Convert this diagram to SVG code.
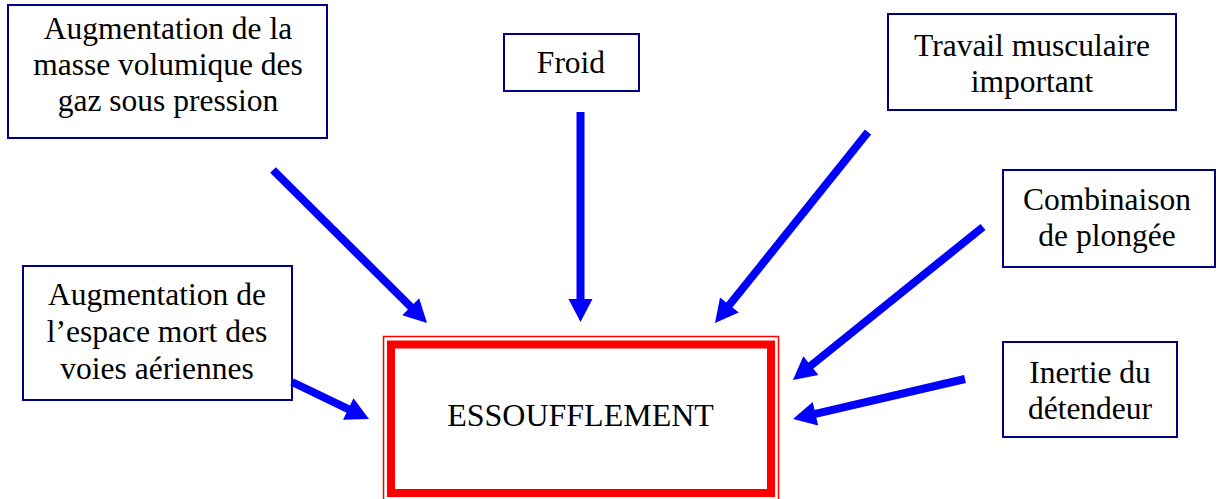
<svg xmlns="http://www.w3.org/2000/svg" width="1224" height="499" viewBox="0 0 1224 499">
<style>
.box{fill:#fff;stroke:#000080;stroke-width:2}
.t{font-family:"Liberation Serif","Times New Roman",serif;font-size:31.5px;fill:#000;text-anchor:middle}
.arr{stroke:#0000ff;stroke-width:8;fill:none;marker-end:url(#ah)}
</style>
<defs>
<marker id="ah" markerUnits="userSpaceOnUse" markerWidth="23" markerHeight="24" refX="11" refY="12" orient="auto" overflow="visible">
<path d="M0,0 L23,12 L0,24 z" fill="#0000ff"/>
</marker>
</defs>
<rect width="1224" height="499" fill="#fff"/>
<g id="n-masse">
<rect class="box" x="8" y="5" width="319" height="133"/>
<text class="t" x="168" y="39">Augmentation de la</text>
<text class="t" x="168" y="75">masse volumique des</text>
<text class="t" x="168" y="111">gaz sous pression</text>
</g>
<g id="n-froid">
<rect class="box" x="504" y="34" width="135" height="57"/>
<text class="t" x="571" y="73">Froid</text>
</g>
<g id="n-travail">
<rect class="box" x="888" y="14" width="288" height="96"/>
<text class="t" x="1032" y="56">Travail musculaire</text>
<text class="t" x="1032" y="92">important</text>
</g>
<g id="n-combi">
<rect class="box" x="1003" y="170" width="212" height="97"/>
<text class="t" x="1107" y="210">Combinaison</text>
<text class="t" x="1107" y="246">de plongée</text>
</g>
<g id="n-espace">
<rect class="box" x="23" y="266" width="269" height="134"/>
<text class="t" x="157" y="305">Augmentation de</text>
<text class="t" x="157" y="342">l’espace mort des</text>
<text class="t" x="157" y="379">voies aériennes</text>
</g>
<g id="n-inertie">
<rect class="box" x="1003" y="342" width="174" height="95"/>
<text class="t" x="1090" y="383">Inertie du</text>
<text class="t" x="1090" y="419">détendeur</text>
</g>
<g id="n-essoufflement">
<rect x="383.5" y="336.5" width="395" height="170" fill="#fff" stroke="#ff0000" stroke-width="1.5"/>
<rect x="391" y="344.5" width="380" height="148.5" fill="none" stroke="#ff0000" stroke-width="8"/>
<text x="580.5" y="426" style="font-family:'Liberation Serif','Times New Roman',serif;font-size:32px;text-anchor:middle;fill:#000">ESSOUFFLEMENT</text>
</g>
<g id="connectors">
<line class="arr" x1="273" y1="170" x2="418.5" y2="314.5"/>
<line class="arr" x1="580.5" y1="112" x2="580.5" y2="310"/>
<line class="arr" x1="868" y1="132" x2="722.5" y2="313.6"/>
<line class="arr" x1="983" y1="227" x2="802.3" y2="372.5"/>
<line class="arr" x1="965" y1="379" x2="804.7" y2="416.3"/>
<line class="arr" x1="292" y1="382" x2="358.2" y2="413.8"/>
</g>
</svg>
